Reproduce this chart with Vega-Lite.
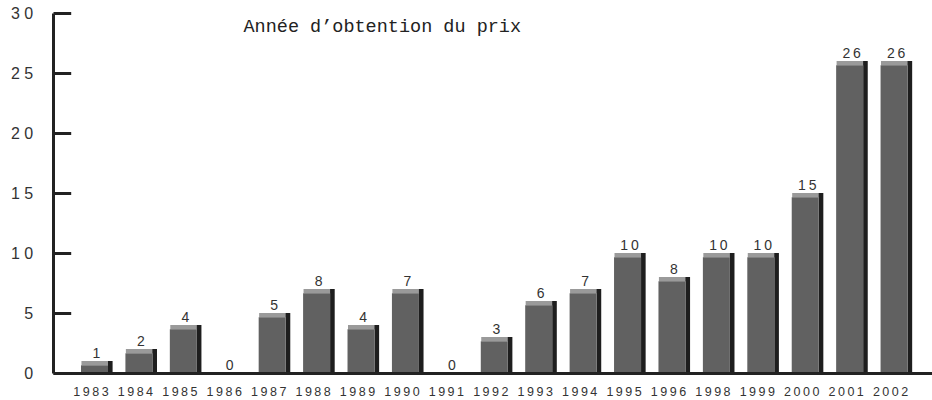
{
  "$schema": "https://vega.github.io/schema/vega-lite/v6.json",
  "autosize": "none",
  "width": 879,
  "height": 360,
  "padding": {"left": 53, "top": 13, "right": 0, "bottom": 27},
  "background": "white",
  "config": {"view": {"stroke": null}},
  "data": {
    "values": [
      {"annee": "1983", "n": 1, "hauteur": 1},
      {"annee": "1984", "n": 2, "hauteur": 2},
      {"annee": "1985", "n": 4, "hauteur": 4},
      {"annee": "1986", "n": 0, "hauteur": 0},
      {"annee": "1987", "n": 5, "hauteur": 5},
      {"annee": "1988", "n": 8, "hauteur": 7},
      {"annee": "1989", "n": 4, "hauteur": 4},
      {"annee": "1990", "n": 7, "hauteur": 7},
      {"annee": "1991", "n": 0, "hauteur": 0},
      {"annee": "1992", "n": 3, "hauteur": 3},
      {"annee": "1993", "n": 6, "hauteur": 6},
      {"annee": "1994", "n": 7, "hauteur": 7},
      {"annee": "1995", "n": 10, "hauteur": 10},
      {"annee": "1996", "n": 8, "hauteur": 8},
      {"annee": "1998", "n": 10, "hauteur": 10},
      {"annee": "1999", "n": 10, "hauteur": 10},
      {"annee": "2000", "n": 15, "hauteur": 15},
      {"annee": "2001", "n": 26, "hauteur": 26},
      {"annee": "2002", "n": 26, "hauteur": 26}
    ]
  },
  "encoding": {
    "x": {
      "field": "annee",
      "type": "nominal",
      "sort": ["1983", "1984", "1985", "1986", "1987", "1988", "1989", "1990", "1991", "1992", "1993", "1994", "1995", "1996", "1998", "1999", "2000", "2001", "2002"],
      "scale": {"paddingInner": 0.392, "paddingOuter": 0.59, "align": 0.534},
      "axis": {
        "title": null,
        "ticks": false,
        "domain": true,
        "domainWidth": 3,
        "domainColor": "#222222",
        "labelAngle": 0,
        "labelPadding": 12,
        "labelOffset": -3.5,
        "labelFont": "Liberation Sans",
        "labelFontSize": 12.5,
        "labelColor": "#333333",
        "labelExpr": "join(split(datum.label, ''), '\u2009')",
        "zindex": 1
      }
    },
    "y": {
      "field": "hauteur",
      "type": "quantitative",
      "scale": {"domain": [0, 30], "nice": false, "zero": true},
      "axis": {
        "title": "Année d’obtention du prix",
        "titleAngle": 0,
        "titleX": 190,
        "titleY": 18.7,
        "titleAlign": "left",
        "titleBaseline": "alphabetic",
        "titleFont": "Liberation Mono",
        "titleFontSize": 18.5,
        "titleFontWeight": "normal",
        "titleColor": "#222222",
        "values": [0, 5, 10, 15, 20, 25, 30],
        "grid": false,
        "domain": true,
        "domainWidth": 3,
        "domainColor": "#222222",
        "ticks": true,
        "tickSize": -17.7,
        "tickWidth": 3,
        "tickColor": "#222222",
        "labelPadding": 38,
        "labelFont": "Liberation Sans",
        "labelFontSize": 16,
        "labelColor": "#333333",
        "labelExpr": "join(split(datum.label, ''), ' ')",
        "zindex": 1
      }
    }
  },
  "layer": [
    {
      "transform": [{"filter": "datum.hauteur > 0"}],
      "mark": {"type": "bar", "color": "#9a9a9a", "width": 30.5, "xOffset": 2.2, "y2Offset": 4.3},
      "encoding": {"y2": {"field": "hauteur"}}
    },
    {
      "transform": [{"filter": "datum.hauteur > 0"}],
      "mark": {"type": "bar", "color": "#1e1e1e", "width": 4.6, "xOffset": 15.8},
      "encoding": {"y2": {"datum": 0}}
    },
    {
      "transform": [{"filter": "datum.hauteur > 0"}],
      "mark": {"type": "bar", "color": "#616161", "yOffset": 4.3},
      "encoding": {"y2": {"datum": 0}}
    },
    {
      "mark": {
        "type": "text",
        "baseline": "alphabetic",
        "dy": -3.5,
        "dx": 2,
        "font": "Liberation Sans",
        "fontSize": 14,
        "color": "#333333",
        "text": {"expr": "join(split(toString(datum.n), ''), '\u2009')"}
      }
    }
  ]
}
